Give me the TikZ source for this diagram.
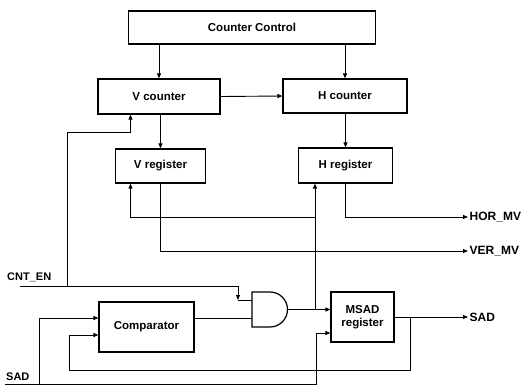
\documentclass[tikz,border=0pt]{standalone}
\usepackage{fontspec}
\setmainfont{Liberation Sans}
\usetikzlibrary{arrows.meta}
\begin{document}
\begin{tikzpicture}[x=1pt,y=-1pt,
  box/.style={draw, line width=1.2pt, inner sep=0pt, font=\fontsize{11.5}{13}\selectfont\bfseries, align=center},
  lbl/.style={inner sep=1.5pt, font=\fontsize{11}{12}\selectfont\bfseries},
  rlbl/.style={lbl, font=\fontsize{12}{13}\selectfont\bfseries},
  wire/.style={line width=0.9pt},
  arr/.style={wire, -{Triangle[length=5pt,width=4pt]}}]
\useasboundingbox (0,0) rectangle (531,386);
% blocks
\node[box, minimum width=247pt, minimum height=33pt] (cc) at (252,27.5) {Counter Control};
\node[box, minimum width=122pt, minimum height=35pt] (vc) at (159,96.5) {V counter};
\node[box, minimum width=124pt, minimum height=34pt] (hc) at (345,96) {H counter};
\node[box, minimum width=90pt, minimum height=34pt] (vr) at (160.5,166) {V register};
\node[box, minimum width=94pt, minimum height=35pt] (hr) at (345.5,165.5) {H register};
\node[box, minimum width=95pt, minimum height=50pt] (comp) at (146.5,327) {Comparator};
\node[box, minimum width=63pt, minimum height=50pt] (msad) at (362.5,317) {MSAD\\register};
% AND gate
\draw[line width=1.2pt] (252,292) -- (270,292) arc[start angle=90, end angle=-90, radius=17.5pt] -- (252,327) -- cycle;
\coordinate (andIn1) at (252,300);
\coordinate (andIn2) at (252,318);
\coordinate (andOut) at (287.5,309.5);
% labels
\node[rlbl, anchor=west] (hor) at (468,217) {HOR\_MV};
\node[rlbl, anchor=west] (ver) at (468,251) {VER\_MV};
\node[rlbl, anchor=west] (sadr) at (468,317) {SAD};
\node[lbl, anchor=west, inner sep=0pt] (cnt) at (7,277) {CNT\_EN};
\node[lbl, anchor=west, inner sep=0pt] (sadl) at (6,377) {SAD};
% coordinates
\coordinate (cntL) at (20,286);
\coordinate (cntJ) at (67.7,286);
\coordinate (cntB) at (67.7,132);
\coordinate (cntK) at (238,300);
\coordinate (jA) at (315,309.5);
\coordinate (jB) at (315,217);
\coordinate (jC) at (410.5,317);
\coordinate (fbL) at (69.4,370);
\coordinate (sadL) at (5,384);
\coordinate (sadJ) at (39,384);
\coordinate (sadK) at (316.5,384);
% connectors
\draw[arr] (vc.north |- cc.south) -- (vc.north);
\draw[arr] (hc.north |- cc.south) -- (hc.north);
\draw[arr] (vc.east) -- (hc.west);
\draw[arr] (vr.north |- vc.south) -- (vr.north);
\draw[arr] (hr.north |- hc.south) -- (hr.north);
\draw[arr] (cntJ) -- (cntB) -| ([xshift=-28.5pt]vc.south);
\draw[wire] (cntL) -- (cntJ);
\draw[arr] (cntJ) -| (cntK);
\draw[wire] (cntK) -- (andIn1);
\draw[wire] ([yshift=9pt]comp.east) -- (andIn2);
\draw[arr] (andOut) -- ([yshift=7.5pt]msad.west);
\draw[arr] (jA) -- ([xshift=-30.5pt]hr.south);
\draw[arr] (jB) -| ([xshift=-30pt]vr.south);
\draw[arr] (hr.south) |- (hor.west);
\draw[arr] (vr.south) |- (ver.west);
\draw[arr] (msad.east) -- (sadr.west);
\draw[arr] (jC) |- (fbL) |- ([yshift=-8pt]comp.west);
\draw[arr] (sadL) -- (sadK) |- ([yshift=-16pt]msad.west);
\draw[arr] (sadJ) |- ([yshift=9pt]comp.west);
\end{tikzpicture}
\end{document}
